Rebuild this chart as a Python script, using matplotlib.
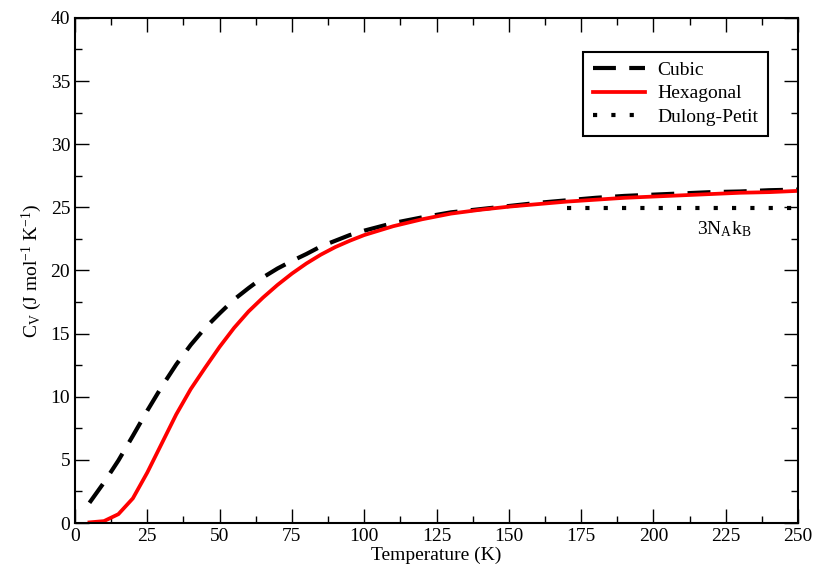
import matplotlib
matplotlib.use("Agg")
import matplotlib.pyplot as plt
from matplotlib.ticker import MultipleLocator

plt.rcParams['font.family'] = ['Liberation Serif', 'DejaVu Serif']
plt.rcParams['mathtext.fontset'] = 'custom'
plt.rcParams['mathtext.rm'] = 'Liberation Serif'
plt.rcParams['mathtext.it'] = 'Liberation Serif'

# temperature grid (K)
temp = [5, 10, 15, 20, 25, 30, 35, 40, 45, 50, 55, 60, 65, 70, 75, 80, 85, 90, 95, 100,
        110, 120, 130, 140, 150, 160, 170, 180, 190, 200, 210, 220, 230, 240, 250]

cubic = [1.6, 3.2, 4.95, 6.9, 8.9, 10.8, 12.55, 14.1, 15.45, 16.6, 17.7, 18.6, 19.45,
         20.15, 20.75, 21.3, 21.9, 22.35, 22.8, 23.15,
         23.75, 24.2, 24.6, 24.85, 25.1, 25.35, 25.55, 25.75, 25.9, 26.0, 26.1, 26.2,
         26.25, 26.35, 26.4]

hexagonal = [0.05, 0.15, 0.7, 1.95, 4.0, 6.3, 8.6, 10.6, 12.3, 13.95, 15.45, 16.75, 17.85,
             18.85, 19.75, 20.55, 21.25, 21.85, 22.35, 22.8,
             23.5, 24.05, 24.5, 24.8, 25.05, 25.25, 25.45, 25.6, 25.75, 25.85, 25.95,
             26.05, 26.15, 26.2, 26.3]

dp_temp = [170, 250]
dp_value = [24.94, 24.94]

fig = plt.figure(figsize=(8.18, 5.76), dpi=100)
ax = fig.add_axes([0.0917, 0.092, 0.8839, 0.877])

ax.plot(temp, cubic, color='black', lw=3, dashes=(5.5, 3.2), label='Cubic')
ax.plot(temp, hexagonal, color='red', lw=2.7, label='Hexagonal')
ax.plot(dp_temp, dp_value, color='black', lw=3, dashes=(1, 3.4), label='Dulong-Petit')

ax.text(215, 23.3, '3N$_\\mathrm{A}$k$_\\mathrm{B}$', fontsize=14, va='center', ha='left')

ax.set_xlim(0, 250)
ax.set_ylim(0, 40)
ax.xaxis.set_major_locator(MultipleLocator(25))
ax.xaxis.set_minor_locator(MultipleLocator(12.5))
ax.yaxis.set_major_locator(MultipleLocator(5))
ax.yaxis.set_minor_locator(MultipleLocator(2.5))
ax.tick_params(which='both', direction='in', top=True, right=True, labelsize=14, width=1)
ax.tick_params(which='major', length=10)
ax.tick_params(which='minor', length=5)
for s in ax.spines.values():
    s.set_linewidth(1.5)

ax.set_xlabel('Temperature (K)', fontsize=14, labelpad=1)
ax.set_ylabel('C$_\\mathrm{V}$ (J mol$^{-1}$ K$^{-1}$)', fontsize=14, labelpad=5)

leg = ax.legend(loc='upper right', bbox_to_anchor=(0.958, 0.933), fontsize=14,
                handlelength=2.7, fancybox=False, framealpha=1, borderaxespad=0,
                labelspacing=0.3, borderpad=0.5, handletextpad=0.6)
leg.get_frame().set_edgecolor('black')
leg.get_frame().set_linewidth(1.5)

plt.savefig('out.png', dpi=100)
